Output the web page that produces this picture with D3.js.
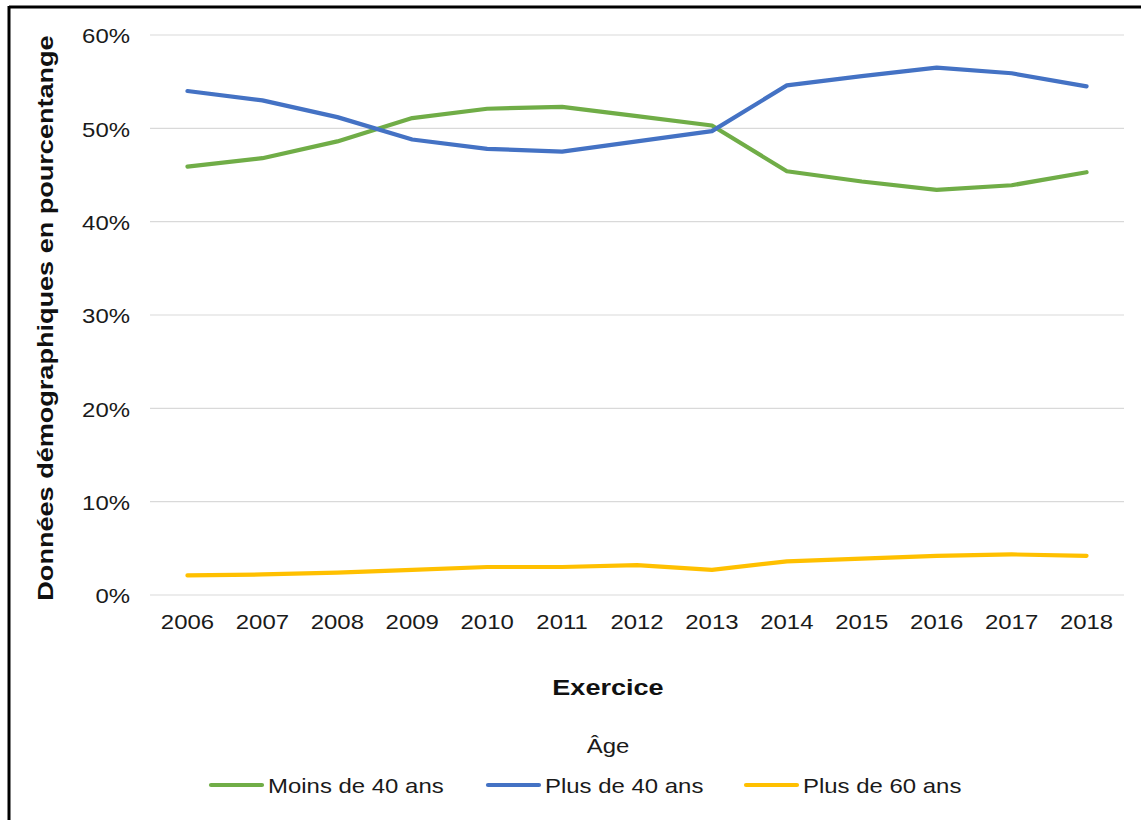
<!DOCTYPE html>
<html>
<head>
<meta charset="utf-8">
<script src="https://cdn.jsdelivr.net/npm/d3@7"></script>
<style>
  html, body { margin: 0; padding: 0; background: #fff; }
  svg { display: block; font-family: "Liberation Sans", Arial, sans-serif; }
</style>
</head>
<body>
<svg id="chart" width="1141" height="820"></svg>
<script>
// Fiscal years on the x axis
const years = ["2006","2007","2008","2009","2010","2011","2012","2013","2014","2015","2016","2017","2018"];

// Share of each age group (%)
const moins40 = [45.9, 46.8, 48.6, 51.1, 52.1, 52.3, 51.3, 50.3, 45.4, 44.3, 43.4, 43.9, 45.3];
const plus40  = [54.0, 53.0, 51.2, 48.8, 47.8, 47.5, 48.6, 49.7, 54.6, 55.6, 56.5, 55.9, 54.5];
const plus60  = [2.1, 2.2, 2.4, 2.7, 3.0, 3.0, 3.2, 2.7, 3.6, 3.9, 4.2, 4.35, 4.2];

const yTicks = [0, 10, 20, 30, 40, 50, 60];

const seriesNames  = ["Moins de 40 ans", "Plus de 40 ans", "Plus de 60 ans"];
const seriesColors = ["#70AD47", "#4472C4", "#FFC000"];
const seriesValues = [moins40, plus40, plus60];

const FONT = "Liberation Sans, Arial, sans-serif";

// Widen glyphs slightly so text runs the same length as the office-style rendering
function widen(factor) {
  return sel => sel.each(function () {
    const w = this.getComputedTextLength();
    d3.select(this).attr("textLength", w * factor).attr("lengthAdjust", "spacingAndGlyphs");
  });
}

const svg = d3.select("#chart");

// Outer frame (top and left edges)
svg.append("line").attr("x1", 9).attr("x2", 1141).attr("y1", 7).attr("y2", 7)
  .attr("stroke", "#000").attr("stroke-width", 3);
svg.append("line").attr("x1", 9).attr("x2", 9).attr("y1", 6).attr("y2", 820)
  .attr("stroke", "#000").attr("stroke-width", 3);

const plot = { left: 150, right: 1124, top: 35, bottom: 595 };

const x = d3.scaleBand().domain(years).range([plot.left, plot.right]);
const y = d3.scaleLinear().domain([0, 60]).range([plot.bottom, plot.top]);

// Horizontal gridlines
svg.append("g").selectAll("line").data(yTicks).join("line")
  .attr("x1", plot.left).attr("x2", plot.right)
  .attr("y1", d => y(d)).attr("y2", d => y(d))
  .attr("stroke", "#d9d9d9").attr("stroke-width", 1.2);

// Y axis labels
const yAxis = svg.append("g")
  .attr("transform", `translate(${plot.left - 20},1)`)
  .call(d3.axisLeft(y).tickValues(yTicks).tickFormat(d => d + "%").tickSize(0).tickPadding(0));
yAxis.select(".domain").remove();
yAxis.selectAll("text").attr("font-size", 21).attr("fill", "#1a1a1a")
  .attr("font-family", FONT).call(widen(1.14));

// X axis labels
const xAxis = svg.append("g")
  .attr("transform", `translate(0,${plot.bottom})`)
  .call(d3.axisBottom(x).tickSize(0).tickPadding(19));
xAxis.select(".domain").remove();
xAxis.selectAll("text").attr("font-size", 21).attr("fill", "#1a1a1a")
  .attr("font-family", FONT).call(widen(1.14));

// Axis titles
svg.append("text")
  .attr("x", 608).attr("y", 695)
  .attr("text-anchor", "middle").attr("font-size", 22).attr("font-weight", "bold")
  .attr("fill", "#111").attr("font-family", FONT).text("Exercice").call(widen(1.23));

svg.append("text")
  .attr("transform", `translate(53,${(plot.top + plot.bottom) / 2 + 3}) rotate(-90)`)
  .attr("text-anchor", "middle").attr("font-size", 22).attr("font-weight", "bold")
  .attr("fill", "#111").attr("font-family", FONT)
  .text("Données démographiques en pourcentange").call(widen(1.23));

// Series lines
const line = d3.line()
  .x((d, i) => x(years[i]) + x.bandwidth() / 2)
  .y(d => y(d));

svg.append("g").selectAll("path").data(seriesValues).join("path")
  .attr("d", d => line(d))
  .attr("fill", "none")
  .attr("stroke", (d, i) => seriesColors[i])
  .attr("stroke-width", 4.2)
  .attr("stroke-linecap", "round")
  .attr("stroke-linejoin", "round");

// Legend
svg.append("text")
  .attr("x", 608).attr("y", 753)
  .attr("text-anchor", "middle").attr("font-size", 21).attr("fill", "#1a1a1a")
  .attr("font-family", FONT).text("Âge").call(widen(1.14));

const legendX = [211, 488, 746];
const legend = svg.append("g").selectAll("g").data(seriesNames).join("g")
  .attr("transform", (d, i) => `translate(${legendX[i]},785)`);
legend.append("line")
  .attr("x1", 0).attr("x2", 51).attr("y1", 0).attr("y2", 0)
  .attr("stroke", (d, i) => seriesColors[i]).attr("stroke-width", 4.2)
  .attr("stroke-linecap", "round");
legend.append("text")
  .attr("x", 57).attr("y", 8)
  .attr("font-size", 21).attr("fill", "#1a1a1a").attr("font-family", FONT)
  .text(d => d).call(widen(1.14));
</script>
</body>
</html>
